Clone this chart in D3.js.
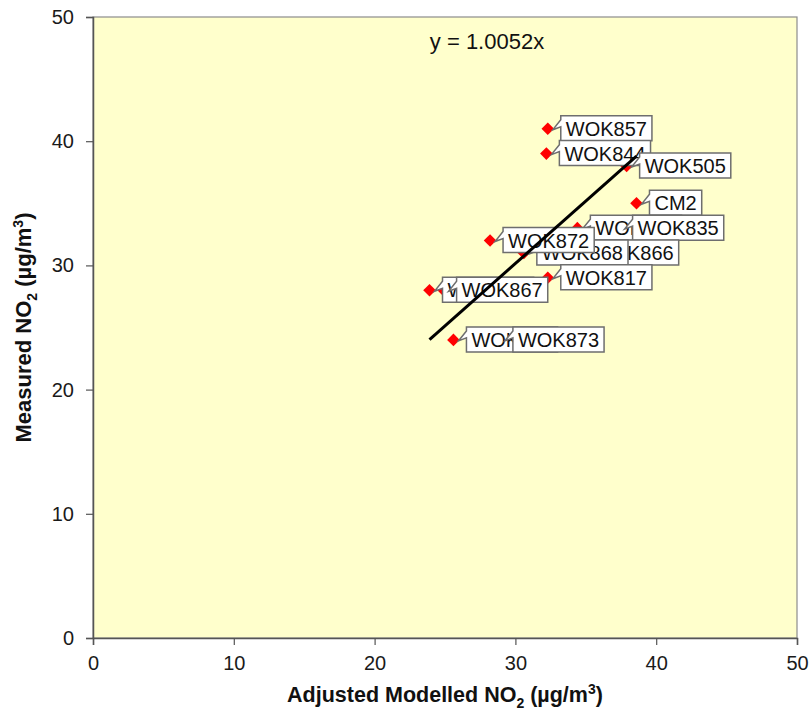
<!DOCTYPE html>
<html>
<head>
<meta charset="utf-8">
<script src="https://cdn.jsdelivr.net/npm/d3@7"></script>
<style>
  html, body { margin: 0; padding: 0; background: #fff; }
  svg { display: block; font-family: "Liberation Sans", Arial, sans-serif; }
</style>
</head>
<body>
<svg id="chart" width="810" height="713"></svg>
<script>
// Monitoring sites: adjusted modelled vs measured NO2 (µg/m³)
const sites    = ["WOK857", "WOK844", "WOK505", "CM2", "WOK834", "WOK835", "WOK866", "WOK868", "WOK872", "WOK817", "WOK865", "WOK867", "WOK871", "WOK873"];
const modelled = [32.3, 32.2, 37.9, 38.6, 34.4, 37.4, 34.2, 30.6, 28.2, 32.3, 23.9, 24.9, 25.6, 28.9];
const measured = [41, 39, 38, 35, 33, 33, 31, 31, 32, 29, 28, 28, 24, 24];
const xTicks = [0, 10, 20, 30, 40, 50];
const yTicks = [0, 10, 20, 30, 40, 50];
const slope = 1.0052;  // trendline forced through the origin

const svg = d3.select("#chart");
const plot = { left: 93, right: 797, top: 17, bottom: 638 };

const x = d3.scaleLinear().domain([0, 50]).range([plot.left, plot.right]);
const y = d3.scaleLinear().domain([0, 50]).range([plot.bottom, plot.top]);

// plot area
svg.append("rect")
  .attr("x", plot.left).attr("y", plot.top)
  .attr("width", plot.right - plot.left).attr("height", plot.bottom - plot.top)
  .attr("fill", "#FFFFCC")
  .attr("stroke", "#8c8c8c").attr("stroke-width", 1.2);

// axes
const xAxis = d3.axisBottom(x).tickValues(xTicks).tickSize(7).tickPadding(11);
const yAxis = d3.axisLeft(y).tickValues(yTicks).tickSize(7).tickPadding(12);

const gx = svg.append("g").attr("transform", `translate(0,${plot.bottom})`).call(xAxis);
const gy = svg.append("g").attr("transform", `translate(${plot.left},0)`).call(yAxis);
[gx, gy].forEach(g => {
  g.select(".domain").attr("stroke", "#555").attr("stroke-width", 1.5);
  g.selectAll(".tick line").attr("stroke", "#555").attr("stroke-width", 1.2);
  g.selectAll(".tick text")
    .attr("fill", "#1a1a1a")
    .style("font-family", "'Liberation Sans', Arial, sans-serif")
    .style("font-size", "20px");
});

// axis titles
const xt = svg.append("text")
  .attr("x", (plot.left + plot.right) / 2).attr("y", 702)
  .attr("text-anchor", "middle")
  .style("font-size", "21.5px").style("font-weight", "bold").attr("fill", "#111");
xt.append("tspan").text("Adjusted Modelled NO");
xt.append("tspan").text("2").attr("dy", 6).style("font-size", "14px");
xt.append("tspan").text(" (µg/m").attr("dy", -6);
xt.append("tspan").text("3").attr("dy", -8).style("font-size", "14px");
xt.append("tspan").text(")").attr("dy", 8);

const yt = svg.append("text")
  .attr("transform", `translate(31,${(plot.top + plot.bottom) / 2}) rotate(-90)`)
  .attr("text-anchor", "middle")
  .style("font-size", "22px").style("font-weight", "bold").attr("fill", "#111");
yt.append("tspan").text("Measured NO");
yt.append("tspan").text("2").attr("dy", 6).style("font-size", "14px");
yt.append("tspan").text(" (µg/m").attr("dy", -6);
yt.append("tspan").text("3").attr("dy", -8).style("font-size", "14px");
yt.append("tspan").text(")").attr("dy", 8);

// data points
const pts = sites.map((s, i) => ({ name: s, mx: modelled[i], my: measured[i] }));

const r = 6.3;
svg.append("g").selectAll("path")
  .data(pts).join("path")
  .attr("d", d => {
    const cx = x(d.mx), cy = y(d.my);
    return `M${cx},${cy - r}L${cx + r},${cy}L${cx},${cy + r}L${cx - r},${cy}Z`;
  })
  .attr("fill", "#FF0000");

// data labels as callout boxes
const lab = svg.append("g");
pts.forEach(d => {
  const px = x(d.mx), py = y(d.my);
  const g = lab.append("g");
  const path = g.append("path");
  const t = g.append("text")
    .attr("y", py + 7)
    .style("font-size", "20px").attr("fill", "#111")
    .text(d.name);
  const bx = px + 13, by = py - 13, h = 25;
  const tw = t.node().getComputedTextLength();
  const w = tw + 10;
  t.attr("x", bx + 5);
  path.attr("d",
    `M${bx},${by}L${bx + w},${by}L${bx + w},${by + h}L${bx},${by + h}` +
    `L${bx},${by + 11}L${px + 5},${py + 1}L${bx},${by + 4}Z`)
    .attr("fill", "#fff").attr("stroke", "#6e6e6e").attr("stroke-width", 1.5)
    .attr("stroke-linejoin", "miter");
});

// linear trendline through origin
const xMin = d3.min(modelled), xMax = d3.max(modelled);
svg.append("line")
  .attr("x1", x(xMin)).attr("y1", y(slope * xMin))
  .attr("x2", x(xMax)).attr("y2", y(slope * xMax))
  .attr("stroke", "#000").attr("stroke-width", 3);

// trendline equation
svg.append("text")
  .attr("x", 487).attr("y", 49)
  .attr("text-anchor", "middle")
  .style("font-size", "22px").attr("fill", "#111")
  .text(`y = ${slope.toFixed(4)}x`);
</script>
</body>
</html>
